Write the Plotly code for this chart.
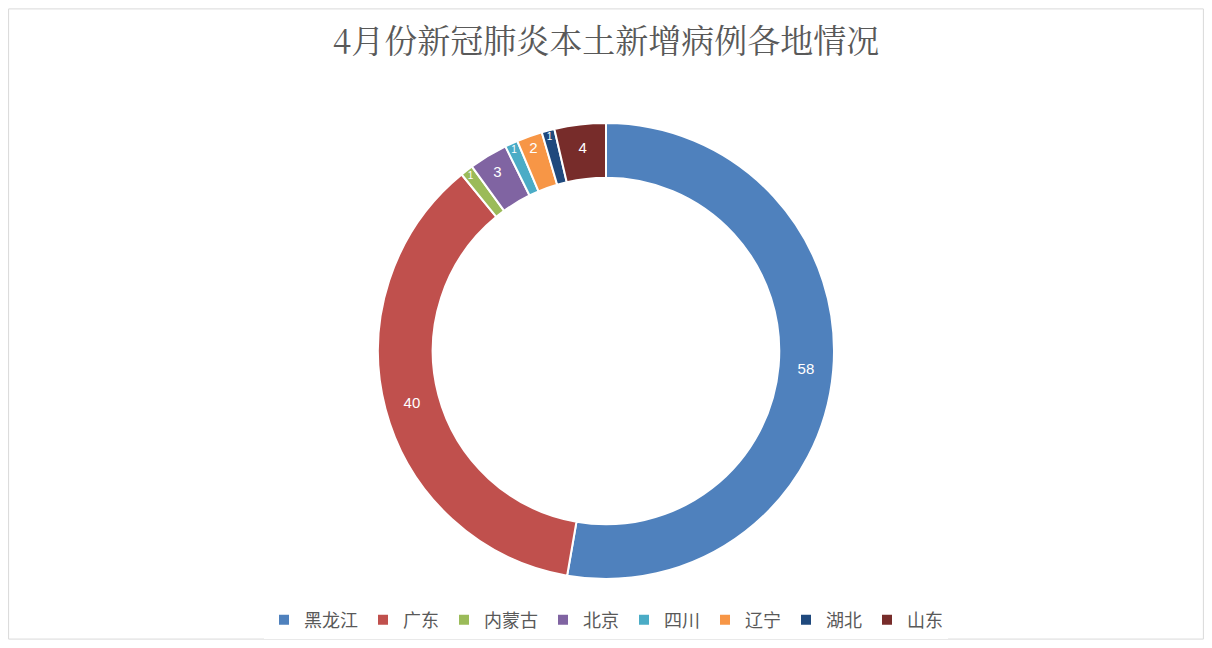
import plotly.graph_objects as go

regions = ["黑龙江", "广东", "内蒙古", "北京", "四川", "辽宁", "湖北", "山东"]
cases = [58, 40, 1, 3, 1, 2, 1, 4]
colors = ["#4F81BD", "#C0504D", "#9BBB59", "#8064A2", "#4BACC6", "#F79646", "#1F497D", "#772C2A"]

W, H = 1196, 632
top, bottom = 115, 61
ph = H - top - bottom

fig = go.Figure(go.Pie(
    labels=regions, values=cases, hole=0.76, sort=False,
    direction="clockwise", rotation=0,
    marker=dict(colors=colors, line=dict(color="white", width=2)),
    textinfo="value", textposition="inside", insidetextorientation="horizontal",
    textfont=dict(color="white", size=15, family="Liberation Sans"),
))
fig.update_layout(
    width=W, height=H,
    margin=dict(l=0, r=0, t=top, b=bottom),
    paper_bgcolor="white",
    font=dict(family="Noto Sans CJK SC"),
    title=dict(text="4月份新冠肺炎本土新增病例各地情况", x=0.5, y=0.965, xanchor="center",
               font=dict(size=33, color="#595959", family="Noto Serif CJK SC, Noto Sans CJK SC")),
    legend=dict(orientation="h", x=0.5, xanchor="center", y=-0.09, yanchor="middle",
                font=dict(size=18, color="#595959"), traceorder="normal"),
    shapes=[dict(type="rect", xref="paper", yref="paper", x0=0.0005, x1=0.9995,
                 y0=-bottom / ph + 0.002, y1=1 + top / ph - 0.002,
                 line=dict(color="#D9D9D9", width=1))],
)
fig.write_html("out.html")
